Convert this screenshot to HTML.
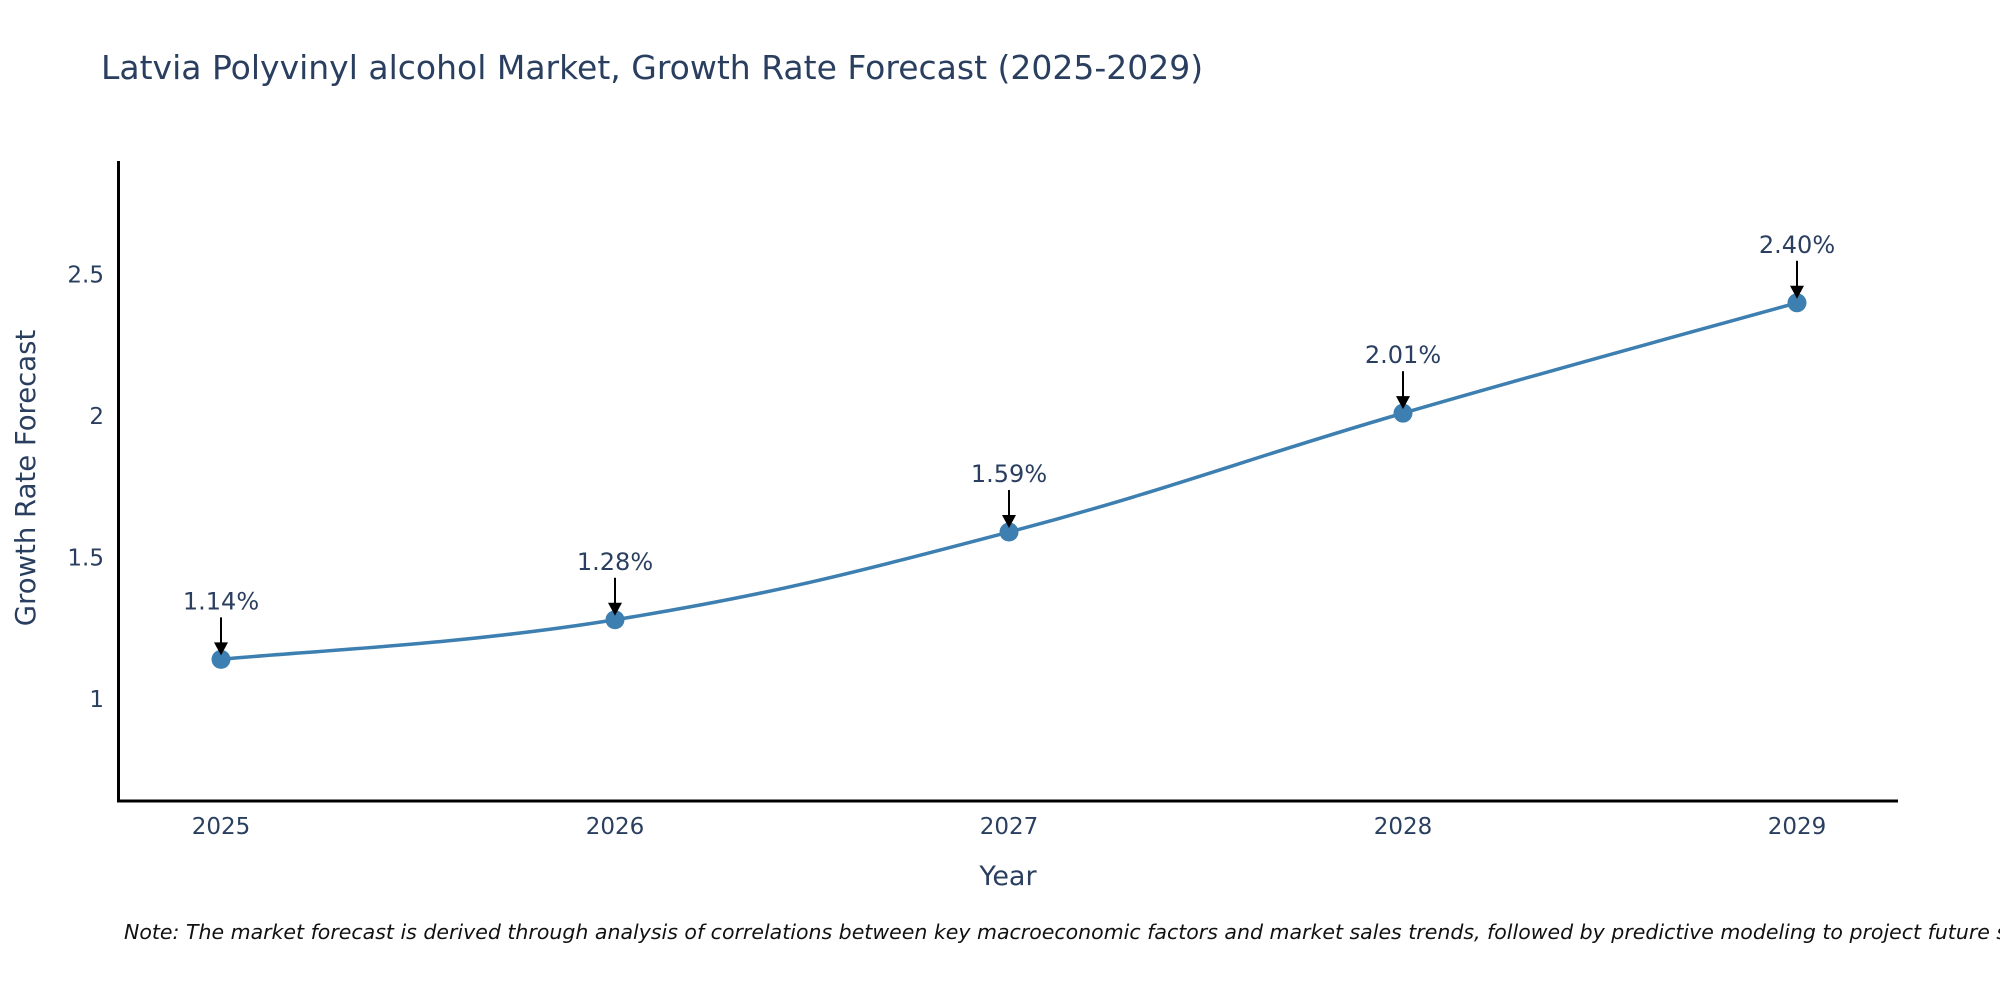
<!DOCTYPE html>
<html><head><meta charset="utf-8"><style>
body{margin:0;background:#fff;}
svg{display:block;font-family:"DejaVu Sans","Liberation Sans",sans-serif;}
</style></head><body>
<svg id="chart" width="2000" height="1000" viewBox="0 0 2000 1000">
<text x="101" y="79" font-size="33" fill="#2a3f5f">Latvia Polyvinyl alcohol Market, Growth Rate Forecast (2025-2029)</text>
<g id="yticks"></g><g id="xticks"></g>
<line x1="118.5" y1="161" x2="118.5" y2="802" stroke="#000" stroke-width="3"/>
<line x1="117" y1="801" x2="1898" y2="801" stroke="#000" stroke-width="3"/>
<path id="line" fill="none" stroke="#3d7fb0" stroke-width="3.5"/>
<g id="pts"></g>
<text x="1008" y="885" font-size="27" fill="#2a3f5f" text-anchor="middle">Year</text>
<text transform="translate(35,478) rotate(-90)" font-size="27.5" fill="#2a3f5f" text-anchor="middle">Growth Rate Forecast</text>
<text x="124" y="939" font-size="20.5" font-style="italic" fill="#111">Note: The market forecast is derived through analysis of correlations between key macroeconomic factors and market sales trends, followed by predictive modeling to project future sales.</text>
</svg>
<script>
const years=[2025,2026,2027,2028,2029];
const values=[1.14,1.28,1.59,2.01,2.40];
const labels=["1.14%","1.28%","1.59%","2.01%","2.40%"];
const yTicks=[1,1.5,2,2.5];
const yTickLabels=["1","1.5","2","2.5"];
const NS="http://www.w3.org/2000/svg";
function xs(v){return 221+(v-2025)*394;}
function ys(v){return 699-(v-1)*283;}
function mk(t,a,p){const e=document.createElementNS(NS,t);for(const k in a)e.setAttribute(k,a[k]);p.appendChild(e);return e;}
const yt=document.getElementById('yticks');
yTicks.forEach((t,i)=>{const e=mk('text',{x:104,y:ys(t)+8,'font-size':23,fill:'#2a3f5f','text-anchor':'end'},yt);e.textContent=yTickLabels[i];

});
const xt=document.getElementById('xticks');
years.forEach(y=>{const e=mk('text',{x:xs(y),y:834,'font-size':23,fill:'#2a3f5f','text-anchor':'middle'},xt);e.textContent=y;

});
const P=years.map((y,i)=>[xs(y),ys(values[i])]);
let d='M'+P[0][0]+','+P[0][1];
for(let i=0;i<P.length-1;i++){const p0=P[i-1]||P[i],p1=P[i],p2=P[i+1],p3=P[i+2]||P[i+1];const s=0.2;
d+=` C${p1[0]+(p2[0]-p0[0])*s},${p1[1]+(p2[1]-p0[1])*s} ${p2[0]-(p3[0]-p1[0])*s},${p2[1]-(p3[1]-p1[1])*s} ${p2[0]},${p2[1]}`;}
document.getElementById('line').setAttribute('d',d);
const g=document.getElementById('pts');
P.forEach((p,i)=>{
const c=mk('circle',{cx:p[0],cy:p[1],r:9.5,fill:'#3d7fb0'},g);


const l=mk('line',{x1:p[0],y1:p[1]-42,x2:p[0],y2:p[1]-16,stroke:'#000','stroke-width':2},g);


const h=mk('polygon',{points:`${p[0]-7},${p[1]-17} ${p[0]+7},${p[1]-17} ${p[0]},${p[1]-4}`,fill:'#000'},g);


const t=mk('text',{x:p[0],y:p[1]-50,'font-size':24,fill:'#2a3f5f','text-anchor':'middle'},g);t.textContent=labels[i];


});
</script>
</body></html>
